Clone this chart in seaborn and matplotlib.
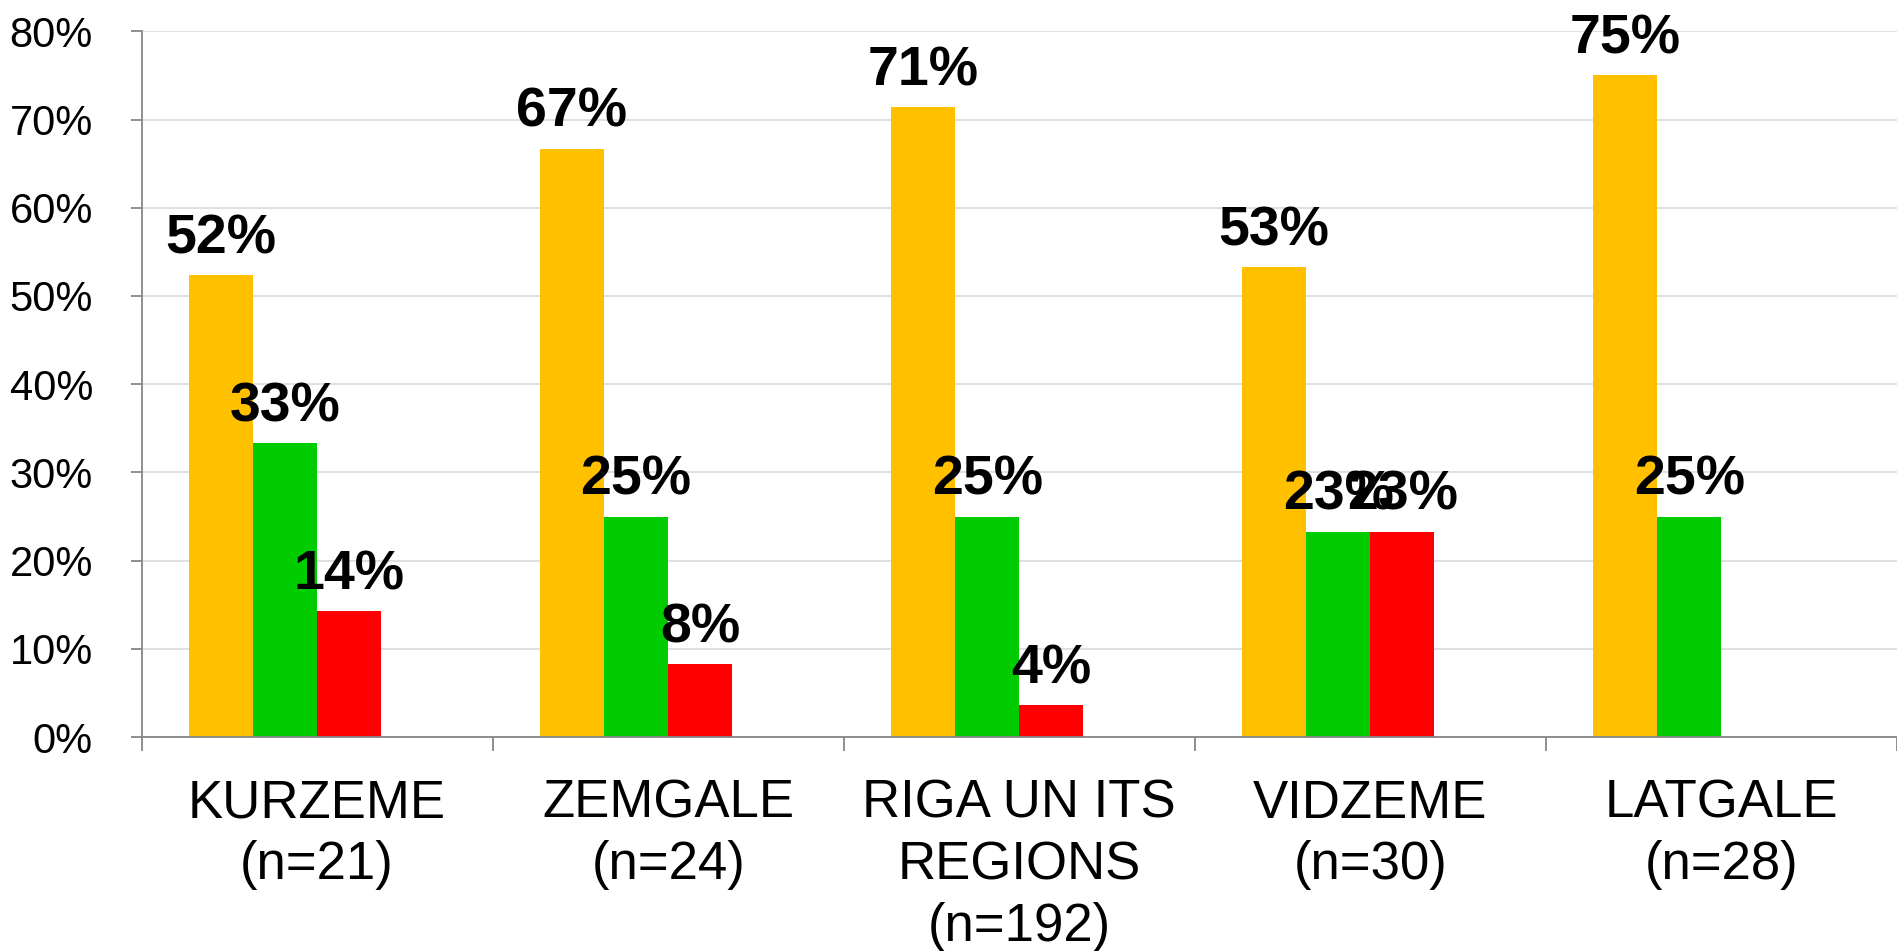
import matplotlib
matplotlib.use("Agg")
import matplotlib.pyplot as plt
import seaborn as sns
import pandas as pd
import numpy as np
from matplotlib.ticker import FixedLocator, PercentFormatter

categories = ["KURZEME\n(n=21)", "ZEMGALE\n(n=24)", "RIGA UN ITS\nREGIONS\n(n=192)",
              "VIDZEME\n(n=30)", "LATGALE\n(n=28)"]
series_names = ["A", "B", "C", "D"]
series_a = [52.4, 66.7, 71.4, 53.3, 75.0]
series_b = [33.3, 25.0, 25.0, 23.3, 25.0]
series_c = [14.3, 8.3, 3.6, 23.3, np.nan]
series_d = [np.nan, np.nan, np.nan, np.nan, np.nan]
colors = ["#FFC000", "#00CC00", "#FF0000", "#4472C4"]
yticks = [0, 10, 20, 30, 40, 50, 60, 70, 80]

rows = []
for name, vals in zip(series_names, [series_a, series_b, series_c, series_d]):
    for cat, v in zip(categories, vals):
        rows.append({"cat": cat, "series": name, "value": v})
df = pd.DataFrame(rows)

sns.set_theme(style="white")
plt.rcParams["font.family"] = ["Liberation Sans", "DejaVu Sans"]

fig = plt.figure(figsize=(18.97, 9.51), dpi=100)
ax = fig.add_axes([0.0746, 0.225, 0.9254, 0.742])

sns.barplot(data=df.dropna(), x="cat", y="value", hue="series", order=categories,
            hue_order=series_names, palette=colors, width=0.73, ax=ax,
            saturation=1, legend=False, errorbar=None, linewidth=0)

for cont in ax.containers:
    vals = [b.get_height() for b in cont]
    labels = ["" if (v is None or np.isnan(v)) else f"{round(v)}%" for v in vals]
    ax.bar_label(cont, labels=labels, padding=7, fontsize=40, fontweight="bold",
                 color="black")

ax.set_ylim(0, 80)
ax.set_xlim(-0.5, 4.5)
ax.set_yticks(yticks)
ax.yaxis.set_major_formatter(PercentFormatter(decimals=0))
ax.grid(axis="y", color="#D9D9D9", linewidth=1.2)
ax.set_axisbelow(True)
ax.set_xlabel("")
ax.set_ylabel("")

for s in ["top", "right"]:
    ax.spines[s].set_visible(False)
for s in ["left", "bottom"]:
    ax.spines[s].set_color("#868686")
    ax.spines[s].set_linewidth(1.3)

ax.tick_params(axis="y", which="major", length=8, width=1.3, color="#868686",
               labelsize=30, pad=27, left=True, labelcolor="black")
ax.tick_params(axis="x", which="major", length=0, labelsize=38, pad=30,
               labelcolor="black")
ax.xaxis.set_minor_locator(FixedLocator([-0.5, 0.5, 1.5, 2.5, 3.5, 4.5]))
ax.tick_params(axis="x", which="minor", length=10, width=1.3, color="#868686",
               bottom=True)
for lbl in ax.get_xticklabels():
    lbl.set_linespacing(1.3)

fig.savefig("out.png", dpi=100)
